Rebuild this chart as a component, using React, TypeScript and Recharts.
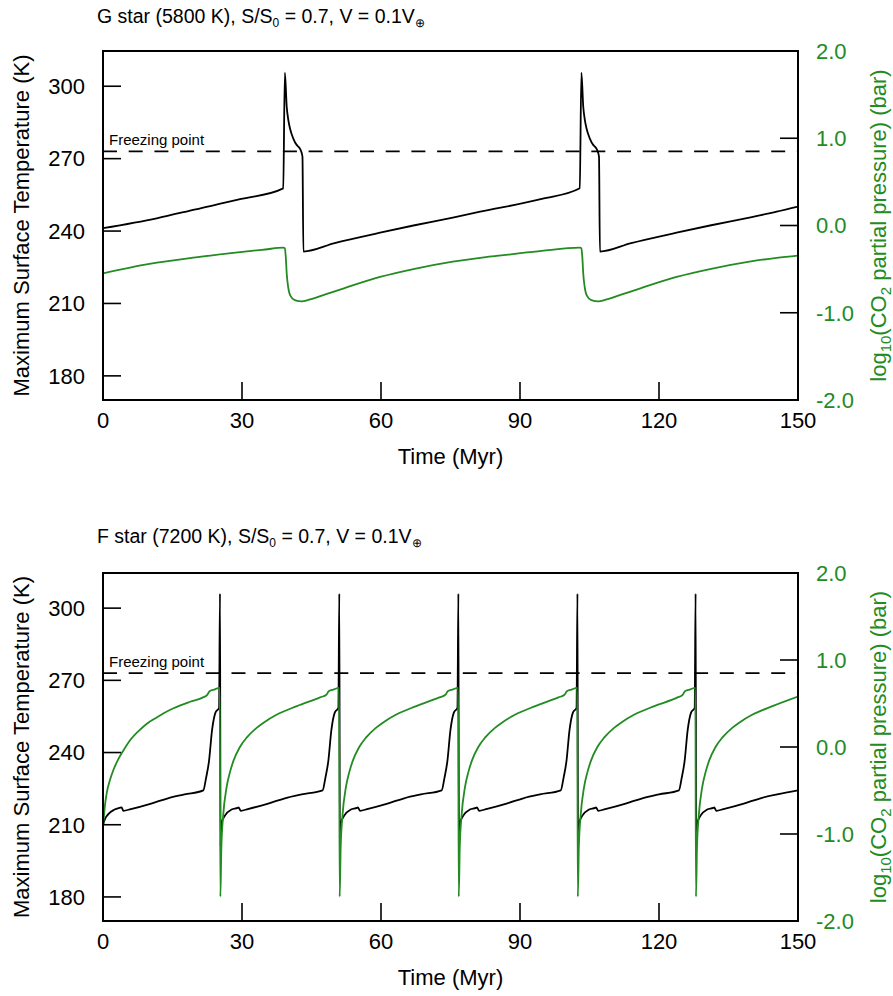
import React from 'react';
import { LineChart, Line, XAxis, YAxis, ReferenceLine } from 'recharts';

const GREEN = '#228B22';
const FONT = '"Liberation Sans", Arial, Helvetica, sans-serif';

const TIME_TICKS = [0, 30, 60, 90, 120, 150];
const TEMP_TICKS = [180, 210, 240, 270, 300];
const CO2_TICKS = [-2, -1, 0, 1, 2];
const FREEZING_POINT = 273;

// G star (5800 K) run
const G_TEMP_TIME = [
  0, 11.6, 20, 29.6, 38.9, 39.25, 39.65, 40.0, 40.35, 41.05, 41.8, 42.15, 42.65, 43.05, 43.25,
  50, 59.8, 67, 75.5, 81.4, 94.7, 102.9, 103.25, 103.65, 104.0, 104.35, 105.05, 105.8, 106.15,
  106.65, 107.05, 107.25, 114, 123.8, 131, 139.5, 145.4, 150,
];
const G_TEMP = [
  241.2, 245.3, 249.0, 253.2, 257.7, 305.6, 291.5, 286.0, 282.6, 278.4, 275.7, 275.0, 273.6, 270.8, 231.5,
  235.0, 239.3, 242.3, 245.6, 248.0, 253.3, 257.7, 305.6, 291.5, 286.0, 282.6, 278.4, 275.7, 275.0,
  273.6, 270.8, 231.5, 235.0, 239.3, 242.3, 245.6, 248.0, 250.1,
];
const G_CO2_TIME = [
  0, 10, 20, 29.6, 35, 38.9, 39.25, 39.45, 39.65, 39.95, 40.4, 41.4, 42.9, 44.5, 48, 52, 59.8, 67,
  75.5, 81.4, 88, 94.7, 102.9, 103.25, 103.45, 103.65, 103.95, 104.4, 105.4, 106.9, 108.5, 112, 116,
  123.8, 131, 139.5, 145.4, 150,
];
const G_CO2 = [
  -0.548, -0.44, -0.365, -0.305, -0.275, -0.254, -0.26, -0.36, -0.55, -0.7, -0.8, -0.855, -0.87, -0.85,
  -0.79, -0.72, -0.59, -0.5, -0.415, -0.37, -0.33, -0.29, -0.254, -0.26, -0.36, -0.55, -0.7, -0.8,
  -0.855, -0.87, -0.85, -0.79, -0.72, -0.59, -0.5, -0.415, -0.37, -0.345,
];

// F star (7200 K) run
const F_TEMP_TIME = [
  0, 0.3, 1.1, 2.5, 3.6, 4.0, 4.4, 6.0, 10.4, 14.0, 17.6, 21.65, 22.25, 22.85, 23.55, 24.25, 25.05, 25.25,
  25.37, 25.55, 26.35, 27.75, 29.05, 29.25, 29.75, 31.25, 35.65, 39.25, 42.85, 47.4, 48.0, 48.6, 49.3, 50.0, 50.8, 51.0,
  51.12, 51.3, 52.1, 53.5, 54.8, 55.0, 55.5, 57.0, 61.4, 65.0, 68.6, 73.1, 73.7, 74.3, 75.0, 75.7, 76.5, 76.7,
  76.82, 77.0, 77.8, 79.2, 80.5, 80.7, 81.2, 82.7, 87.1, 90.7, 94.3, 98.8, 99.4, 100.0, 100.7, 101.4, 102.2, 102.4,
  102.52, 102.7, 103.5, 104.9, 106.2, 106.4, 106.9, 108.4, 112.8, 116.4, 120.0, 124.3, 124.9, 125.5, 126.2, 126.9, 127.7, 127.9,
  128.02, 128.2, 129.0, 130.4, 131.7, 131.9, 132.4, 133.9, 138.3, 141.9, 145.5, 150,
];
const F_TEMP = [
  209.8, 211.8, 214.3, 216.3, 217.0, 217.2, 215.8, 216.5, 218.8, 221.0, 222.6, 224.3, 229.5, 236.0, 249.5, 256.5, 258.6, 306.0,
  201, 210.5, 213.9, 216.3, 217.0, 217.2, 215.8, 216.5, 218.8, 221.0, 222.6, 224.3, 229.5, 236.0, 249.5, 256.5, 258.6, 306.0,
  201, 210.5, 213.9, 216.3, 217.0, 217.2, 215.8, 216.5, 218.8, 221.0, 222.6, 224.3, 229.5, 236.0, 249.5, 256.5, 258.6, 306.0,
  201, 210.5, 213.9, 216.3, 217.0, 217.2, 215.8, 216.5, 218.8, 221.0, 222.6, 224.3, 229.5, 236.0, 249.5, 256.5, 258.6, 306.0,
  201, 210.5, 213.9, 216.3, 217.0, 217.2, 215.8, 216.5, 218.8, 221.0, 222.6, 224.3, 229.5, 236.0, 249.5, 256.5, 258.6, 306.0,
  201, 210.5, 213.9, 216.3, 217.0, 217.2, 215.8, 216.5, 218.8, 221.0, 222.6, 224.3,
];
const F_CO2_TIME = [
  0, 0.4, 0.8, 1.5, 2.2, 3.2, 4.4, 5.8, 8.0, 9.4, 11.6, 13.0, 15.2, 18.8, 21.6, 22.5, 23.0, 24.0, 25.2,
  25.33, 25.55, 25.95, 26.65, 27.45, 28.15, 29.55, 31.05, 33.15, 34.65, 37.45, 41.85, 46.85, 48.2, 48.7, 49.7, 50.95,
  51.08, 51.3, 51.7, 52.4, 53.2, 53.9, 55.3, 56.8, 58.9, 60.4, 63.2, 67.6, 72.6, 73.9, 74.4, 75.4, 76.65,
  76.78, 77.0, 77.4, 78.1, 78.9, 79.6, 81.0, 82.5, 84.6, 86.1, 88.9, 93.3, 98.3, 99.6, 100.1, 101.1, 102.35,
  102.48, 102.7, 103.1, 103.8, 104.6, 105.3, 106.7, 108.2, 110.3, 111.8, 114.6, 119.0, 124.0, 125.1, 125.6, 126.6, 127.85,
  127.98, 128.2, 128.6, 129.3, 130.1, 130.8, 132.2, 133.7, 135.8, 137.3, 140.1, 144.5, 150,
];
const F_CO2 = [
  -0.93, -0.68, -0.53, -0.38, -0.27, -0.15, -0.04, 0.075, 0.2, 0.265, 0.34, 0.385, 0.445, 0.52, 0.57, 0.6, 0.64, 0.66, 0.68,
  -1.72, -1.15, -0.78, -0.47, -0.28, -0.16, 0.0, 0.11, 0.22, 0.28, 0.37, 0.47, 0.57, 0.6, 0.64, 0.66, 0.68,
  -1.72, -1.15, -0.78, -0.47, -0.28, -0.16, 0.0, 0.11, 0.22, 0.28, 0.37, 0.47, 0.57, 0.6, 0.64, 0.66, 0.68,
  -1.72, -1.15, -0.78, -0.47, -0.28, -0.16, 0.0, 0.11, 0.22, 0.28, 0.37, 0.47, 0.57, 0.6, 0.64, 0.66, 0.68,
  -1.72, -1.15, -0.78, -0.47, -0.28, -0.16, 0.0, 0.11, 0.22, 0.28, 0.37, 0.47, 0.57, 0.6, 0.64, 0.66, 0.68,
  -1.72, -1.15, -0.78, -0.47, -0.28, -0.16, 0.0, 0.11, 0.22, 0.28, 0.37, 0.47, 0.58,
];

const toSeries = (ts: number[], vs: number[]) => ts.map((t, i) => ({ t, v: vs[i] }));

const axisLineStyle = { stroke: '#000', strokeWidth: 2, strokeLinecap: 'square' as const };
const tickLineStyle = { stroke: '#000', strokeWidth: 1.6 };

type PanelProps = {
  top: number;
  height: number;
  bottomAxisHeight: number;
  temp: { t: number; v: number }[];
  co2: { t: number; v: number }[];
};

const Panel: React.FC<PanelProps> = ({ top, height, bottomAxisHeight, temp, co2 }) => (
  <div style={{ position: 'absolute', left: 0, top }}>
    <LineChart width={893} height={height} margin={{ top: 31, right: 0, bottom: 0, left: 0 }}>
      <XAxis
        xAxisId="bottom"
        type="number"
        dataKey="t"
        domain={[0, 150]}
        ticks={TIME_TICKS}
        interval={0}
        allowDataOverflow
        height={bottomAxisHeight}
        tickSize={-18}
        tickMargin={30}
        axisLine={axisLineStyle}
        tickLine={tickLineStyle}
        tick={{ fontSize: 22, fill: '#000' }}
      />
      <XAxis
        xAxisId="top"
        orientation="top"
        type="number"
        dataKey="t"
        domain={[0, 150]}
        ticks={TIME_TICKS}
        interval={0}
        allowDataOverflow
        height={20}
        tickSize={-18}
        axisLine={axisLineStyle}
        tickLine={tickLineStyle}
        tick={false}
      />
      <YAxis
        yAxisId="temp"
        type="number"
        domain={[170, 314.6]}
        ticks={TEMP_TICKS}
        interval={0}
        allowDataOverflow
        width={103}
        tickSize={-18}
        tickMargin={36}
        axisLine={axisLineStyle}
        tickLine={tickLineStyle}
        tick={{ fontSize: 22, fill: '#000' }}
      />
      <YAxis
        yAxisId="co2"
        orientation="right"
        type="number"
        domain={[-2, 2]}
        ticks={CO2_TICKS}
        interval={0}
        allowDataOverflow
        width={95}
        tickSize={-18}
        tickMargin={36}
        axisLine={axisLineStyle}
        tickLine={tickLineStyle}
        tick={{ fontSize: 22, fill: GREEN }}
        tickFormatter={(v: number) => v.toFixed(1)}
      />
      <ReferenceLine
        xAxisId="bottom"
        yAxisId="temp"
        y={FREEZING_POINT}
        stroke="#000"
        strokeWidth={1.8}
        strokeDasharray="14 11.7"
        label={{ value: 'Freezing point', position: 'insideBottomLeft', offset: 6, fontSize: 15, fill: '#000' }}
      />
      <Line
        xAxisId="bottom"
        yAxisId="temp"
        data={temp}
        dataKey="v"
        type="monotone"
        stroke="#000"
        strokeWidth={1.8}
        dot={false}
        activeDot={false}
        isAnimationActive={false}
      />
      <Line
        xAxisId="bottom"
        yAxisId="co2"
        data={co2}
        dataKey="v"
        type="monotone"
        stroke={GREEN}
        strokeWidth={1.8}
        dot={false}
        activeDot={false}
        isAnimationActive={false}
      />
    </LineChart>
  </div>
);

const Title: React.FC<{ y: number; star: string }> = ({ y, star }) => (
  <text x={97} y={y} fontSize={19.5} fill="#000">
    {star}, S/S
    <tspan fontSize={12} dy={4}>0</tspan>
    <tspan dy={-4}> = 0.7, V = 0.1V</tspan>
    <tspan fontSize={12} dy={4}>⊕</tspan>
  </text>
);

const AxisTitles: React.FC<{ mid: number; timeBaseline: number }> = ({ mid, timeBaseline }) => (
  <>
    <text transform="rotate(-90)" x={-mid} y={29} textAnchor="middle" fontSize={22} fill="#000">
      Maximum Surface Temperature (K)
    </text>
    <text transform="rotate(-90)" x={-mid} y={886} textAnchor="middle" fontSize={22} fill={GREEN}>
      log<tspan fontSize={15} dy={5}>10</tspan>
      <tspan dy={-5}>(CO</tspan>
      <tspan fontSize={15} dy={5}>2</tspan>
      <tspan dy={-5}> partial pressure) (bar)</tspan>
    </text>
    <text x={450.5} y={timeBaseline} textAnchor="middle" fontSize={22} fill="#000">
      Time (Myr)
    </text>
  </>
);

export default function App() {
  const gTemp = toSeries(G_TEMP_TIME, G_TEMP);
  const gCo2 = toSeries(G_CO2_TIME, G_CO2);
  const fTemp = toSeries(F_TEMP_TIME, F_TEMP);
  const fCo2 = toSeries(F_CO2_TIME, F_CO2);

  return (
    <div
      style={{
        position: 'absolute',
        left: 0,
        top: 0,
        width: 893,
        height: 996,
        background: '#fff',
        fontFamily: FONT,
        overflow: 'hidden',
      }}
    >
      <Panel top={0} height={480} bottomAxisHeight={80} temp={gTemp} co2={gCo2} />
      <Panel top={522} height={474} bottomAxisHeight={75} temp={fTemp} co2={fCo2} />
      <svg
        width={893}
        height={996}
        style={{ position: 'absolute', left: 0, top: 0, pointerEvents: 'none', fontFamily: FONT }}
      >
        <Title y={23} star="G star (5800 K)" />
        <Title y={543} star="F star (7200 K)" />
        <AxisTitles mid={225.5} timeBaseline={464} />
        <AxisTitles mid={747} timeBaseline={985} />
      </svg>
    </div>
  );
}
